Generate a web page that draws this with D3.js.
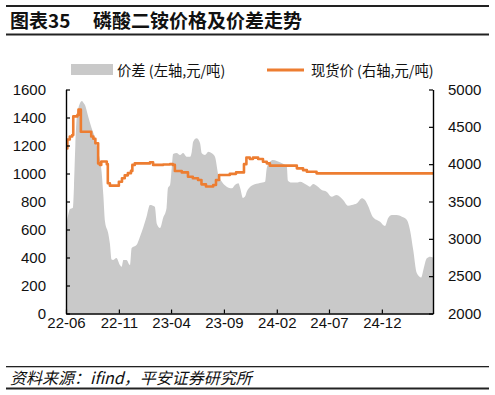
<!DOCTYPE html>
<html><head><meta charset="utf-8">
<script src="https://cdn.jsdelivr.net/npm/d3@7/dist/d3.min.js"></script>
<style>
body{margin:0;background:#fff}
svg text{font-family:"Liberation Sans",Arial,"Noto Sans CJK SC",sans-serif}
</style>
</head><body><svg id="c" width="495" height="395"></svg>
<script>
// ---- data ----
const spreadDates = ["2022-06-03","2022-06-07","2022-06-12","2022-06-21","2022-06-24","2022-06-28","2022-07-02","2022-07-05","2022-07-11","2022-07-17","2022-07-23","2022-07-26","2022-08-03","2022-08-14","2022-08-24","2022-09-02","2022-09-07","2022-09-12","2022-09-17","2022-09-22","2022-10-01","2022-10-06","2022-10-11","2022-10-15","2022-10-25","2022-11-04","2022-11-09","2022-11-14","2022-11-23","2022-12-03","2022-12-08","2022-12-22","2023-01-01","2023-01-10","2023-01-20","2023-01-30","2023-02-13","2023-02-19","2023-02-28","2023-03-09","2023-03-19","2023-03-23","2023-03-29","2023-04-03","2023-04-07","2023-04-17","2023-04-27","2023-05-06","2023-05-16","2023-05-26","2023-05-31","2023-06-04","2023-06-14","2023-06-24","2023-06-29","2023-07-08","2023-07-18","2023-07-28","2023-08-06","2023-08-16","2023-08-26","2023-09-09","2023-09-24","2023-10-03","2023-10-13","2023-10-18","2023-10-26","2023-11-01","2023-11-06","2023-11-16","2023-11-24","2023-12-14","2023-12-29","2024-01-03","2024-01-12","2024-01-21","2024-02-01","2024-02-19","2024-03-01","2024-03-04","2024-03-14","2024-03-30","2024-04-08","2024-04-28","2024-05-07","2024-05-16","2024-05-30","2024-06-10","2024-06-24","2024-07-09","2024-07-23","2024-08-11","2024-08-25","2024-09-05","2024-09-20","2024-10-04","2024-10-13","2024-10-22","2024-11-05","2024-11-26","2024-12-10","2024-12-19","2024-12-30","2025-01-13","2025-01-28","2025-02-11","2025-02-21","2025-03-02","2025-03-12","2025-03-25","2025-03-31","2025-04-10","2025-04-20","2025-04-28"];
const spreadValues = [650,700,745,755,900,1200,1400,1445,1500,1518,1500,1489,1418,1325,1254,1156,1100,1013,846,656,575,500,385,382,396,346,334,382,382,346,468,489,549,610,691,775,763,640,611,682,753,896,918,1039,1140,1146,1132,1146,1120,1120,1156,1227,1251,1216,1144,1132,1156,1144,1120,989,941,906,894,918,930,896,825,835,870,906,918,932,941,1039,1084,1096,1090,1070,1050,950,935,935,941,918,906,925,906,882,870,834,846,811,770,775,787,823,810,770,690,656,625,680,703,703,691,670,590,450,290,258,311,394,406,400];

const priceDates = ["2022-06-01","2022-06-05","2022-06-12","2022-06-19","2022-06-22","2022-07-04","2022-07-07","2022-07-14","2022-08-13","2022-08-19","2022-08-25","2022-09-02","2022-09-07","2022-09-11","2022-09-27","2022-09-30","2022-10-06","2022-11-01","2022-11-10","2022-11-18","2022-11-27","2022-12-06","2022-12-10","2022-12-17","2023-01-30","2023-02-08","2023-03-09","2023-03-29","2023-04-06","2023-04-12","2023-05-02","2023-05-20","2023-06-03","2023-06-18","2023-06-28","2023-07-11","2023-08-01","2023-08-09","2023-08-18","2023-09-18","2023-10-06","2023-10-29","2023-11-05","2023-11-15","2023-11-24","2023-12-09","2023-12-23","2024-01-03","2024-01-12","2024-03-30","2024-04-17","2024-04-28","2024-05-26","2025-04-28"];
const priceValues = [4210,4330,4370,4390,4640,4660,4730,4435,4370,4340,4280,4010,3990,4035,4000,3745,3712,3765,3811,3850,3880,3910,3990,4010,4025,3990,3995,4000,3990,3908,3890,3832,3811,3788,3730,3700,3721,3788,3855,3870,3890,4000,4090,4069,4087,4069,4033,4011,3980,3944,3920,3899,3877,3877];

const leftTicks = [0,200,400,600,800,1000,1200,1400,1600];
const rightTicks = [2000,2500,3000,3500,4000,4500,5000];
const xTickDates = ["2022-06-01","2022-11-01","2023-04-01","2023-09-01","2024-02-01","2024-07-01","2024-12-01"];
const xDomain = ["2022-06-01","2025-04-28"];

const title = "图表35";
const subtitle = "磷酸二铵价格及价差走势";
const legendSpread = "价差 (左轴,元/吨)";
const legendPrice = "现货价 (右轴,元/吨)";
const source = "资料来源：ifind，平安证券研究所";

// ---- drawing ----
const parse = d3.timeParse("%Y-%m-%d");
const svg = d3.select("#c");
const L = 66, R = 433, T = 89.5, B = 313.5;

const x = d3.scaleTime().domain(xDomain.map(parse)).range([L, R]);
const yL = d3.scaleLinear().domain([0,1600]).range([B, T]);
const yR = d3.scaleLinear().domain([2000,5000]).range([B, T]);

// header
svg.append("rect").attr("x",6).attr("y",5).attr("width",483).attr("height",2).attr("fill","#222");
svg.append("rect").attr("x",6).attr("y",33.5).attr("width",483).attr("height",2).attr("fill","#222");
svg.append("text").attr("x",10).attr("y",28).attr("font-size",19).attr("font-weight","bold")
  .style("font-family",'"Noto Sans CJK SC",sans-serif').attr("fill","#111").text(title);
svg.append("text").attr("x",93).attr("y",28).attr("font-size",19).attr("font-weight","bold")
  .style("font-family",'"Noto Sans CJK SC",sans-serif').attr("fill","#111").text(subtitle);

// footer
svg.append("rect").attr("x",6).attr("y",366).attr("width",483).attr("height",1.3).attr("fill","#222");
svg.append("rect").attr("x",6).attr("y",387.5).attr("width",483).attr("height",2).attr("fill","#222");
svg.append("text").attr("x",10).attr("y",384).attr("font-size",16).attr("font-style","italic")
  .style("font-family",'"Noto Sans CJK SC",sans-serif').attr("fill","#111").text(source);

// legend
svg.append("rect").attr("x",71).attr("y",64).attr("width",42).attr("height",11).attr("fill","#c9c9c9");
svg.append("text").attr("x",117).attr("y",76).attr("font-size",14.3).attr("fill","#111")
  .style("font-family",'"Noto Sans CJK SC",sans-serif').text(legendSpread);
svg.append("line").attr("x1",267).attr("x2",304).attr("y1",70).attr("y2",70)
  .attr("stroke","#ED7D31").attr("stroke-width",3);
svg.append("text").attr("x",311).attr("y",76).attr("font-size",14.3).attr("fill","#111")
  .style("font-family",'"Noto Sans CJK SC",sans-serif').text(legendPrice);

// spread area
const spread = spreadDates.map((d,i)=>({d:parse(d), v:spreadValues[i]}));
svg.append("path").datum(spread)
  .attr("fill","#c9c9c9")
  .attr("d", d3.area().x(p=>x(p.d)).y0(B).y1(p=>yL(p.v)).curve(d3.curveMonotoneX));

// price step line
const price = priceDates.map((d,i)=>({d:parse(d), v:priceValues[i]}));
svg.append("path").datum(price)
  .attr("fill","none").attr("stroke","#ED7D31").attr("stroke-width",2.6)
  .attr("stroke-linejoin","round")
  .attr("d", d3.line().x(p=>x(p.d)).y(p=>yR(p.v)).curve(d3.curveStepAfter));

// axes
function styleAxis(g){
  g.selectAll("path.domain").attr("stroke","#000").attr("stroke-width",1.4);
  g.selectAll(".tick line").attr("stroke","#000").attr("stroke-width",1.2);
  g.selectAll("text").attr("font-size",15).attr("fill","#111")
    .style("font-family",'"Liberation Sans",Arial,sans-serif');
}
svg.append("g").attr("transform",`translate(${L},0)`)
  .call(d3.axisLeft(yL).tickValues(leftTicks).tickSize(-4).tickSizeOuter(0).tickPadding(20).tickFormat(d3.format("d")))
  .call(styleAxis);
svg.append("g").attr("transform",`translate(${R},0)`)
  .call(d3.axisRight(yR).tickValues(rightTicks).tickSize(-4).tickSizeOuter(0).tickPadding(15).tickFormat(d3.format("d")))
  .call(styleAxis);
svg.append("g").attr("transform",`translate(0,${B})`)
  .call(d3.axisBottom(x).tickValues(xTickDates.map(parse)).tickSize(-4).tickSizeOuter(0).tickPadding(4).tickFormat(d3.timeFormat("%y-%m")))
  .call(styleAxis);
</script>
</body></html>
